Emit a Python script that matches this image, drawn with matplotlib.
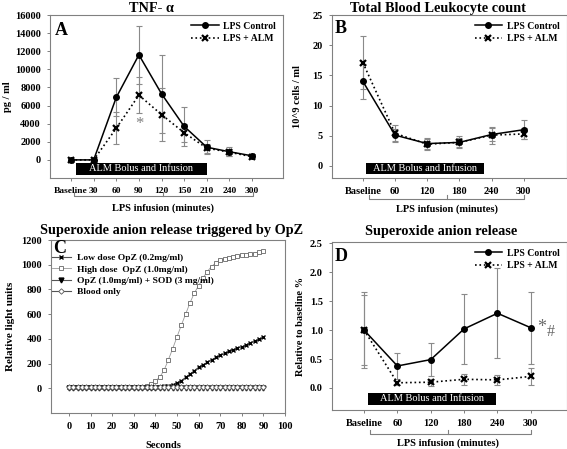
import matplotlib
matplotlib.use('Agg')
import matplotlib.pyplot as plt
from matplotlib.patches import Rectangle
import matplotlib.transforms as mtrans

plt.rcParams['font.family'] = ['Liberation Serif', 'DejaVu Serif']
plt.rcParams['font.weight'] = 'bold'
plt.rcParams['axes.labelweight'] = 'bold'
plt.rcParams['axes.titleweight'] = 'bold'

# ---------------- Data ----------------
# Panel A: TNF-alpha (pg/ml)
tnf_labels = ['Baseline', '30', '60', '90', '120', '150', '210', '240', '300']
tnf_ctrl = [0, 0, 6900, 11600, 7300, 3700, 1400, 900, 450]
tnf_ctrl_err = [0, 0, 2100, 3200, 4300, 2150, 800, 500, 150]
tnf_alm = [0, 0, 3500, 7150, 5000, 3000, 1300, 850, 350]
tnf_alm_err = [0, 0, 1800, 2000, 2950, 1000, 500, 400, 150]

# Panel B: total blood leukocyte count (10^9 cells/ml)
wbc_labels = ['Baseline', '60', '120', '180', '240', '300']
wbc_ctrl = [14.0, 5.1, 3.7, 3.9, 5.2, 6.0]
wbc_ctrl_err = [2.9, 1.0, 1.0, 1.0, 1.0, 1.6]
wbc_alm = [17.1, 5.4, 3.6, 3.9, 5.1, 5.3]
wbc_alm_err = [4.4, 1.4, 0.8, 0.8, 1.4, 0.9]

# Panel C: superoxide anion release triggered by OpZ (relative light units)
seconds = [0, 2, 4, 6, 8, 10, 12, 14, 16, 18, 20, 22, 24, 26, 28, 30,
           32, 34, 36, 38, 40, 42, 44, 46, 48, 50, 52, 54, 56, 58, 60,
           62, 64, 66, 68, 70, 72, 74, 76, 78, 80, 82, 84, 86, 88, 90]
low_dose = [10, 10, 10, 10, 10, 10, 10, 10, 10, 10, 10, 10, 10, 10, 10, 10,
            10, 10, 10, 10, 10, 12, 15, 20, 30, 44, 62, 88, 115, 142, 170,
            190, 210, 230, 250, 266, 282, 298, 313, 325, 335, 351, 367, 382, 397, 412]
high_dose = [10, 10, 10, 10, 10, 10, 10, 10, 10, 10, 10, 10, 10, 10, 10, 11,
             12, 14, 20, 35, 58, 90, 145, 230, 320, 415, 510, 600, 690, 770, 830,
             890, 945, 985, 1015, 1035, 1045, 1055, 1062, 1068, 1076, 1080, 1086, 1090, 1100, 1112]
opz_sod = [6, 6, 6, 6, 6, 6, 6, 6, 6, 6, 6, 6, 6, 6, 6, 6,
           6, 6, 6, 6, 6, 6, 6, 6, 6, 6, 6, 6, 6, 6, 6,
           6, 6, 6, 6, 6, 6, 6, 6, 6, 6, 6, 6, 6, 6, 6]
blood_only = [9, 9, 9, 9, 9, 9, 9, 9, 9, 9, 9, 9, 9, 9, 9, 9,
              9, 9, 9, 9, 9, 9, 9, 9, 9, 9, 9, 9, 9, 9, 9,
              9, 9, 9, 9, 9, 9, 9, 9, 9, 9, 9, 9, 9, 9, 9]
c_labels = ['Low dose OpZ (0.2mg/ml)', 'High dose  OpZ (1.0mg/ml)',
            'OpZ (1.0mg/ml) + SOD (3 mg/ml)', 'Blood only']

# Panel D: superoxide anion release (relative to baseline)
sox_labels = ['Baseline', '60', '120', '180', '240', '300']
sox_ctrl = [1.0, 0.38, 0.49, 1.02, 1.29, 1.04]
sox_ctrl_err = [0.65, 0.22, 0.29, 0.60, 0.78, 0.62]
sox_alm = [1.0, 0.09, 0.10, 0.15, 0.14, 0.20]
sox_alm_err = [0.60, 0.03, 0.06, 0.10, 0.09, 0.14]

# ---------------- Style ----------------
W, H = 567, 449
GRAY = '#808080'
ERR = '#8a8a8a'
fig = plt.figure(figsize=(W / 100, H / 100), dpi=100)


def add_axes(l, t, r, b):
    return fig.add_axes([l / W, 1 - b / H, (r - l) / W, (b - t) / H])


def style(ax, xsize=7.5):
    for s in ax.spines.values():
        s.set_color(GRAY)
        s.set_linewidth(0.8)
    ax.tick_params(direction='out', length=2.5, width=0.7, color=GRAY,
                   labelsize=7.5, pad=4)
    ax.tick_params(axis='x', labelsize=xsize)


def pair(ax, ctrl, ctrl_err, alm, alm_err):
    x = list(range(len(ctrl)))
    ax.errorbar(x, ctrl, yerr=ctrl_err, fmt='none', ecolor=ERR, elinewidth=0.8,
                capsize=2.5, capthick=0.8, zorder=2)
    ax.errorbar(x, alm, yerr=alm_err, fmt='none', ecolor=ERR, elinewidth=0.8,
                capsize=2.5, capthick=0.8, zorder=2)
    ax.plot(x, ctrl, '-', color='black', lw=1.1, marker='o', ms=4,
            label='LPS Control', zorder=3)
    ax.plot(x, alm, ':', color='black', lw=1.2, marker='x', ms=4.5, mew=1.6,
            label='LPS + ALM', zorder=3)
    ax.legend(loc='upper right', frameon=False, fontsize=7, handlelength=2.8,
              handletextpad=0.5, labelspacing=0.35, borderaxespad=0.3)


def bracket(ax, x0, x1, xm, y, h, ly):
    tr = mtrans.blended_transform_factory(ax.transData, ax.transAxes)
    ax.plot([x0, x0, x1, x1], [y + h, y, y, y + h], color=GRAY, lw=0.8,
            transform=tr, clip_on=False)
    ax.plot([xm, xm], [y, y + h], color=GRAY, lw=0.8, transform=tr, clip_on=False)
    ax.text(xm, ly, 'LPS infusion (minutes)', transform=tr, ha='center',
            va='center', fontsize=7.5)


def alm_box(ax, x0, x1, y0, y1):
    ax.add_patch(Rectangle((x0, y0), x1 - x0, y1 - y0, facecolor='black',
                           edgecolor='none', zorder=4))
    ax.text((x0 + x1) / 2, (y0 + y1) / 2, 'ALM Bolus and Infusion', color='white',
            ha='center', va='center', fontsize=7.5, fontweight='normal', zorder=5)


def title(x, y, s):
    fig.text(x / W, 1 - y / H, s, ha='center', va='baseline', fontsize=10.3,
             fontweight='bold')


# ---------------- Panel A ----------------
axA = add_axes(50, 15, 283, 178)
style(axA, xsize=6.8)
pair(axA, tnf_ctrl, tnf_ctrl_err, tnf_alm, tnf_alm_err)
axA.set_xlim(-0.93, 9.37)
axA.set_ylim(-2000, 16000)
axA.set_yticks(range(0, 16001, 2000))
axA.set_xticks(range(len(tnf_labels)))
axA.set_xticklabels(tnf_labels)
axA.set_ylabel('pg / ml', fontsize=7.5)
axA.yaxis.set_label_coords(-0.163, 0.5)
axA.text(0.02, 0.96, 'A', transform=axA.transAxes, fontsize=13, va='top', ha='left')
axA.text(3, 4000, '*', color=GRAY, fontsize=12, ha='center', va='center',
         fontweight='normal')
alm_box(axA, 0.22, 6.0, -1650, -350)
bracket(axA, 0.13, 8.05, 4.05, -0.11, 0.025, -0.184)
title(151, 12.5, 'TNF- α')

# ---------------- Panel B ----------------
axB = add_axes(332, 15, 566.5, 178)
style(axB)
pair(axB, wbc_ctrl, wbc_ctrl_err, wbc_alm, wbc_alm_err)
axB.set_xlim(-0.96, 6.33)
axB.set_ylim(-2, 25)
axB.set_yticks(range(0, 26, 5))
axB.set_xticks(range(len(wbc_labels)))
axB.set_xticklabels(wbc_labels)
axB.set_ylabel('10^9 cells / ml', fontsize=7.5)
axB.yaxis.set_label_coords(-0.128, 0.5)
axB.text(0.013, 0.97, 'B', transform=axB.transAxes, fontsize=13, va='top', ha='left')
alm_box(axB, 0.1, 3.75, -1.3, 0.55)
bracket(axB, 0.19, 5.0, 2.6, -0.129, 0.025, -0.19)
title(438, 12, 'Total Blood Leukocyte count')

# ---------------- Panel C ----------------
axC = add_axes(51, 240, 285, 413)
style(axC)
axC.plot(seconds, low_dose, '-', color='#555555', lw=0.8, marker='x', ms=3,
         mew=1.0, mec='black', label=c_labels[0], zorder=3)
axC.plot(seconds, high_dose, '-', color='#999999', lw=0.6, marker='s', ms=2.6,
         mew=0.6, mec='#666666', mfc='white', label=c_labels[1], zorder=3)
axC.plot(seconds, opz_sod, '-', color='#555555', lw=0.8, marker='v', ms=3.5,
         mec='black', mfc='black', label=c_labels[2], zorder=3)
axC.plot(seconds, blood_only, '-', color='#555555', lw=0.8, marker='D', ms=2.8,
         mew=0.6, mec='#555555', mfc='white', label=c_labels[3], zorder=3)
axC.set_xlim(-8.3, 100)
axC.set_ylim(-200, 1200)
axC.set_xticks(range(0, 101, 10))
axC.set_yticks(range(0, 1201, 200))
axC.set_xlabel('Seconds', fontsize=7.5)
axC.xaxis.set_label_coords(0.48, -0.16)
axC.set_ylabel('Relative light units', fontsize=8)
axC.yaxis.set_label_coords(-0.154, 0.5)
axC.text(0.01, 1.0, 'C', transform=axC.transAxes, fontsize=13, va='top', ha='left')
axC.legend(loc='upper left', bbox_to_anchor=(-0.02, 0.955), frameon=False,
           fontsize=6.8, handlelength=2.0, handletextpad=0.6, labelspacing=0.3,
           borderaxespad=0.2)
title(172, 234, 'Superoxide anion release triggered by OpZ')

# ---------------- Panel D ----------------
axD = add_axes(332, 242, 566.5, 410)
style(axD)
pair(axD, sox_ctrl, sox_ctrl_err, sox_alm, sox_alm_err)
axD.set_xlim(-0.96, 6.07)
axD.set_ylim(-0.38, 2.52)
axD.set_yticks([0.0, 0.5, 1.0, 1.5, 2.0, 2.5])
axD.set_yticklabels(['0.0', '0.5', '1.0', '1.5', '2.0', '2.5'])
axD.set_xticks(range(len(sox_labels)))
axD.set_xticklabels(sox_labels)
axD.set_ylabel('Relative to baseline %', fontsize=7.5)
axD.yaxis.set_label_coords(-0.115, 0.5)
axD.text(0.013, 0.965, 'D', transform=axD.transAxes, fontsize=13, va='top', ha='left')
axD.text(5.33, 1.05, '*', color='#6a6a6a', fontsize=13, ha='center', va='center',
         fontweight='normal')
axD.text(5.6, 0.97, '#', color='#6a6a6a', fontsize=11.5, ha='center', va='center',
         fontweight='normal')
alm_box(axD, 0.12, 3.95, -0.29, -0.09)
bracket(axD, 0.18, 5.0, 2.51, -0.143, 0.025, -0.196)
title(441, 235, 'Superoxide anion release')

fig.savefig('out.png', dpi=100)
